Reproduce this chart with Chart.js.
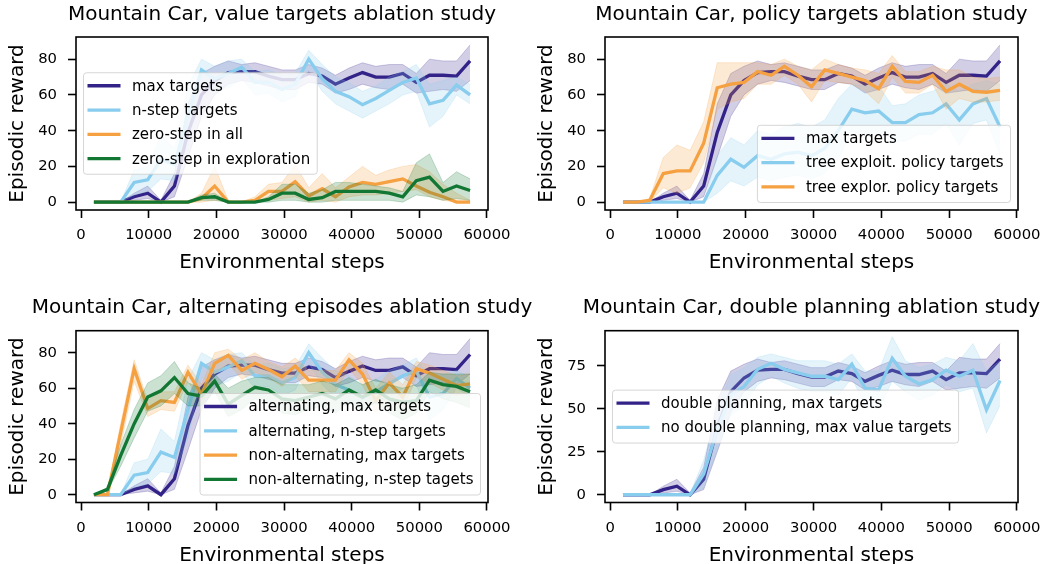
<!DOCTYPE html>
<html>
<head>
<meta charset="utf-8">
<title>Mountain Car ablation studies</title>
<script src="https://cdn.jsdelivr.net/npm/chart.js@4.4.1/dist/chart.umd.min.js"></script>
<style>
    html, body { margin: 0; padding: 0; background: #fff; overflow: hidden; }
    #wrap { position: relative; width: 1044px; height: 564px; }
    canvas { position: absolute; }
</style>
</head>
<body>
<div id="wrap">
    <canvas id="c1" width="522" height="282" style="left:0;top:0"></canvas>
    <canvas id="c2" width="522" height="282" style="left:522px;top:0"></canvas>
    <canvas id="c3" width="560" height="300" style="left:0;top:282px"></canvas>
    <canvas id="c4" width="522" height="300" style="left:522px;top:282px"></canvas>
</div>
<script>
// evaluation points (environmental steps)
var steps = [1900, 3900, 5850, 7850, 9850, 11800, 13800, 15800, 17800, 19750, 21750, 23750, 25700, 27700,
    29700, 31650, 33650, 35650, 37600, 39600, 41600, 43550, 45550, 47550, 49550, 51500, 53500, 55500, 57500];

var xTicks = [0, 10000, 20000, 30000, 40000, 50000, 60000];
var yTicks = [0, 20, 40, 60, 80];
var yTicksDouble = [0, 25, 50, 75];

// max targets (shared by all four panels)
var maxMean  = [0, 0, 0, 3, 5, 0, 9, 39, 60, 68, 72.5, 73, 73, 70.5, 68.5, 68.5, 72, 70.5, 66, 69.5, 72.5, 70, 70, 72, 67, 71, 71, 70.5, 79];
var maxUpper = [0, 0, 0, 5, 9, 1, 16, 55, 72, 76, 79, 77, 78, 76, 74, 74, 77, 75, 71, 75, 78, 76, 77, 77, 72, 80, 79, 79, 88];
var maxLower = [0, 0, 0, 1, 2, 0, 3, 25, 48, 60, 66, 68, 67, 65, 63, 63, 67, 66, 61, 63, 66, 64, 63, 66, 61, 62, 63, 62, 68];

// n-step targets (panels 1 and 3)
var nstepMean  = [0, 0, 0, 11, 12.5, 24, 21, 48, 74, 69, 72, 75.5, 67, 67, 63, 66, 80, 69, 62, 59, 54.5, 58, 62.5, 67, 69.5, 55, 57, 65.5, 60];
var nstepUpper = [0, 0, 0, 18, 20, 37, 30, 65, 80, 76, 79, 80, 73, 74, 71, 72, 85, 77, 70, 67, 62, 65, 70, 73, 77, 66, 68, 70, 66];
var nstepLower = [0, 0, 0, 4, 6, 13, 12, 32, 66, 61, 64, 69, 60, 61, 56, 59, 74, 62, 55, 51, 47, 51, 55, 60, 62, 42, 48, 60, 55];

// zero-step in all
var zeroAllMean  = [0, 0, 0, 0, 0, 0, 0, 0, 2, 9, 0, 0, 1, 6, 6, 11.5, 3.5, 7.5, 3, 8.5, 11, 10, 11.5, 13, 9, 5.5, 3, 0, 0];
var zeroAllUpper = [0, 0, 0, 0, 0, 0, 0, 0, 5, 20, 1, 0, 3, 10, 11, 21, 8, 16, 8, 14, 20, 15, 18, 20, 21, 17, 10, 5, 1];
var zeroAllLower = [0, 0, 0, 0, 0, 0, 0, 0, 0, 1, 0, 0, 0, 1, 2, 3, 0, 1, 0, 3, 4, 4, 5, 6, 7, 3, 1, 0, 0];

// zero-step in exploration
var zeroExpMean  = [0, 0, 0, 0, 0, 0, 0, 0, 2.5, 3, 0, 0, 0, 1.5, 5, 5, 1.5, 2.5, 6, 6, 6, 6, 5, 3, 12, 14, 6, 9, 6.5];
var zeroExpUpper = [0, 0, 0, 0, 0, 0, 0, 0, 4, 5, 0, 0, 0, 3, 10, 10, 5, 7, 11, 11, 10, 9, 8, 6, 22, 27, 11, 17, 13];
var zeroExpLower = [0, 0, 0, 0, 0, 0, 0, 0, 1, 1, 0, 0, 0, 0, 1, 1, 0, 0, 1, 1, 1, 1, 1, 0, 4, 3, 1, 2, 1];

// tree exploit. policy targets
var exploitMean  = [0, 0, 0, 0, 0, 0, 0, 15, 24, 19.5, 26, 24, 27, 28, 26, 30, 40, 52, 50, 51, 44.5, 44.5, 49, 50, 55, 46, 55, 58, 42];
var exploitUpper = [0, 0, 0, 0, 0, 0, 0, 26, 36, 32, 40, 38, 42, 44, 42, 46, 58, 66, 65, 65, 54, 55, 60, 62, 66, 62, 66, 68, 66];
var exploitLower = [0, 0, 0, 0, 0, 0, 0, 5, 12, 9, 14, 12, 14, 15, 13, 16, 24, 40, 36, 38, 34, 34, 38, 38, 44, 32, 44, 46, 26];

// tree explor. policy targets
var explorMean  = [0, 0, 1, 16, 17.5, 17.5, 33, 64, 66, 67, 73, 71, 76, 71, 64.5, 74, 72, 70, 68, 63.5, 76, 67.5, 67, 71, 62, 66, 62, 61.5, 62.5];
var explorUpper = [0, 0, 2, 25, 32, 29, 45, 78, 78, 78, 78, 77, 80, 76, 74, 80, 77, 75, 74, 72, 82, 73, 73, 76, 74, 74, 70, 69, 70];
var explorLower = [0, 0, 0, 8, 5, 8, 22, 52, 56, 58, 66, 66, 71, 66, 56, 68, 67, 66, 62, 55, 70, 61, 61, 66, 52, 58, 56, 56, 57];

// non-alternating, max targets
var nonAltMaxMean  = [0, 0, 35, 71, 48.5, 53, 52, 69, 56.5, 74, 78.5, 70, 74, 70.5, 66.5, 72.5, 64.5, 64.5, 64.5, 76, 68, 53, 63, 55, 71, 68.5, 65, 61.5, 62.5];
var nonAltMaxUpper = [0, 1, 40, 76, 53, 58, 58, 73, 62, 80, 82, 76, 80, 75, 72, 77, 70, 70, 70, 80, 74, 60, 69, 62, 75, 73, 70, 67, 68];
var nonAltMaxLower = [0, 0, 28, 64, 44, 48, 47, 64, 51, 68, 74, 65, 69, 66, 61, 67, 58, 58, 58, 71, 62, 46, 57, 48, 66, 63, 59, 56, 57];

// non-alternating, n-step targets
var nonAltNMean  = [0, 3, 22, 40, 55, 58.5, 66, 57, 55.5, 64, 51, 56, 60.5, 59, 54, 53, 55, 57, 54, 59, 55, 59, 54, 52, 53, 64.5, 62, 61, 58];
var nonAltNUpper = [0, 4, 28, 48, 63, 67, 75, 63, 60, 68, 60, 64, 66, 66, 62, 62, 62, 64, 62, 66, 62, 65, 62, 60, 62, 69, 68, 68, 68];
var nonAltNLower = [0, 2, 16, 32, 47, 50, 57, 50, 50, 58, 44, 48, 54, 52, 46, 45, 48, 50, 46, 52, 48, 52, 46, 42, 46, 58, 54, 52, 49];

// no double planning, max value targets
var noDoubleMean  = [0, 0, 0, 0, 0, 0, 12, 38, 58, 63, 73, 76.5, 73, 71, 69, 69, 67, 76, 62, 61, 79.5, 69, 64.5, 67, 72.5, 69, 72.5, 49.5, 66.5];
var noDoubleUpper = [0, 0, 0, 0, 0, 1, 20, 50, 70, 74, 80, 82, 80, 78, 78, 78, 76, 82, 72, 72, 92, 78, 74, 76, 80, 78, 88, 72, 78];
var noDoubleLower = [0, 0, 0, 0, 0, 0, 4, 26, 46, 52, 64, 69, 65, 62, 60, 60, 58, 68, 52, 50, 66, 60, 55, 58, 64, 60, 62, 36, 52];

var NAVY = "#332288";
var SKY = "#88CCEE";
var ORANGE = "#F5A142";
var GREEN = "#117733";

Chart.defaults.font.family = '"DejaVu Sans", sans-serif';
Chart.defaults.color = "#000";

function pts(values) {
    return values.map(function (v, i) {
        return { x: steps[i], y: v };
    });
}

function alpha(hex, a) {
    var n = parseInt(hex.slice(1), 16);
    return "rgba(" + (n >> 16) + "," + ((n >> 8) & 255) + "," + (n & 255) + "," + a + ")";
}

// matplotlib-like frame round the plot area
var framePlugin = {
    id: "frame",
    afterDatasetsDraw: function (chart) {
        var a = chart.chartArea;
        var ctx = chart.ctx;
        ctx.save();
        ctx.strokeStyle = "#000";
        ctx.lineWidth = 1.6;
        ctx.strokeRect(a.left, a.top, a.right - a.left, a.bottom - a.top);
        ctx.restore();
    }
};

// title centred over the plot area (not the whole canvas)
var panelTitle = {
    id: "panelTitle",
    afterDraw: function (chart, args, opts) {
        if (!opts.text) return;
        var a = chart.chartArea;
        var ctx = chart.ctx;
        ctx.save();
        ctx.font = '20px "DejaVu Sans"';
        ctx.fillStyle = "#000";
        ctx.textAlign = "center";
        ctx.textBaseline = "middle";
        ctx.fillText(opts.text, (a.left + a.right) / 2, opts.y);
        ctx.restore();
    }
};

// legend box drawn inside the plot area
var boxLegend = {
    id: "boxLegend",
    afterDraw: function (chart, args, opts) {
        if (!opts.items) return;
        var ctx = chart.ctx;
        var a = chart.chartArea;
        ctx.save();
        ctx.font = '15px "DejaVu Sans"';
        var tw = 0;
        opts.items.forEach(function (it) {
            tw = Math.max(tw, ctx.measureText(it.label).width);
        });
        var w = 48.5 + tw + 7;
        var h = 24.3 * opts.items.length + 4.3;
        var x, y;
        if (opts.loc === "center left") {
            x = a.left + 7.5;
            y = (a.top + a.bottom) / 2 - h / 2;
        } else {
            x = a.right - 7.5 - w;
            y = a.bottom - 7.5 - h;
        }
        ctx.beginPath();
        ctx.roundRect(x, y, w, h, 3);
        ctx.fillStyle = "rgba(255,255,255,0.8)";
        ctx.fill();
        ctx.strokeStyle = "rgba(204,204,204,0.8)";
        ctx.lineWidth = 1;
        ctx.stroke();
        ctx.textBaseline = "middle";
        ctx.textAlign = "left";
        opts.items.forEach(function (it, i) {
            var cy = y + 13 + i * 24.3;
            ctx.beginPath();
            ctx.moveTo(x + 4, cy);
            ctx.lineTo(x + 37, cy);
            ctx.strokeStyle = it.color;
            ctx.lineWidth = 3.3;
            ctx.stroke();
            ctx.fillStyle = "#000";
            ctx.fillText(it.label, x + 48.5, cy + 1);
        });
        ctx.restore();
    }
};

function makePanel(id, cfg) {
    var datasets = [];
    cfg.series.forEach(function (s, k) {
        var base = 100 - k * 10;
        datasets.push({
            data: pts(s.lower), borderColor: alpha(s.color, 0.22), borderWidth: 1,
            pointRadius: 0, fill: false, order: base + 2
        });
        datasets.push({
            data: pts(s.upper), borderColor: alpha(s.color, 0.22), borderWidth: 1,
            backgroundColor: alpha(s.color, 0.22), pointRadius: 0, fill: "-1", order: base + 1
        });
        datasets.push({
            label: s.label, data: pts(s.mean), borderColor: s.color, borderWidth: 3.3,
            pointRadius: 0, fill: false, order: base
        });
    });

    var tickFont = { size: 14.8 };
    var labelFont = { size: 20 };
    var tickGrid = { drawOnChartArea: false, drawTicks: true, tickLength: 8, tickWidth: 1.6, tickColor: "#000" };

    new Chart(document.getElementById(id), {
        type: "line",
        data: { datasets: datasets },
        options: {
            responsive: false,
            animation: false,
            devicePixelRatio: 1,
            layout: { padding: { left: 0, top: cfg.padTop, right: cfg.padRight, bottom: cfg.padBottom } },
            plugins: {
                legend: { display: false },
                tooltip: { enabled: false },
                title: { display: false },
                panelTitle: { text: cfg.title, y: cfg.titleY },
                boxLegend: { loc: cfg.legendLoc, items: cfg.series.map(function (s) {
                    return { label: s.label, color: s.color };
                }) }
            },
            scales: {
                x: {
                    type: "linear",
                    min: -750,
                    max: 60150,
                    afterBuildTicks: function (s) {
                        s.ticks = xTicks.map(function (v) { return { value: v }; });
                    },
                    afterFit: function (s) {
                        s.height = 72;
                        s.paddingLeft = 0;
                        s.paddingRight = 0;
                    },
                    ticks: {
                        font: tickFont, color: "#000", padding: 8.5, maxRotation: 0, autoSkip: false,
                        callback: function (v) { return String(v); }
                    },
                    grid: tickGrid,
                    border: { display: false },
                    title: { display: true, text: "Environmental steps", font: labelFont, color: "#000",
                        padding: { top: 0, bottom: 7 } }
                },
                y: {
                    min: cfg.yMin,
                    max: cfg.yMax,
                    afterBuildTicks: function (s) {
                        s.ticks = cfg.yTicks.map(function (v) { return { value: v }; });
                    },
                    afterFit: function (s) {
                        s.width = cfg.yWidth;
                        s.paddingTop = 0;
                        s.paddingBottom = 0;
                    },
                    ticks: { font: tickFont, color: "#000", padding: 11 },
                    grid: tickGrid,
                    border: { display: false },
                    title: { display: true, text: "Episodic reward", font: labelFont, color: "#000",
                        padding: { top: cfg.yTitlePad, bottom: 0 } }
                }
            }
        },
        plugins: [framePlugin, panelTitle, boxLegend]
    });
}

document.addEventListener("DOMContentLoaded", function () {
    var maxSeries = function (label) {
        return { label: label, color: NAVY, mean: maxMean, upper: maxUpper, lower: maxLower };
    };

    makePanel("c1", {
        title: "Mountain Car, value targets ablation study", titleY: 15,
        padTop: 37, padRight: 34, padBottom: 0, yWidth: 76, yTitlePad: 6,
        yMin: -4.4, yMax: 92.4, yTicks: yTicks, legendLoc: "center left",
        series: [
            maxSeries("max targets"),
            { label: "n-step targets", color: SKY, mean: nstepMean, upper: nstepUpper, lower: nstepLower },
            { label: "zero-step in all", color: ORANGE, mean: zeroAllMean, upper: zeroAllUpper, lower: zeroAllLower },
            { label: "zero-step in exploration", color: GREEN, mean: zeroExpMean, upper: zeroExpUpper, lower: zeroExpLower }
        ]
    });

    makePanel("c2", {
        title: "Mountain Car, policy targets ablation study", titleY: 15,
        padTop: 37, padRight: 26, padBottom: 0, yWidth: 83, yTitlePad: 13,
        yMin: -4.4, yMax: 92.4, yTicks: yTicks, legendLoc: "lower right",
        series: [
            maxSeries("max targets"),
            { label: "tree exploit. policy targets", color: SKY, mean: exploitMean, upper: exploitUpper, lower: exploitLower },
            { label: "tree explor. policy targets", color: ORANGE, mean: explorMean, upper: explorUpper, lower: explorLower }
        ]
    });

    makePanel("c3", {
        title: "Mountain Car, alternating episodes ablation study", titleY: 26,
        padTop: 48.7, padRight: 72, padBottom: 7.5, yWidth: 76, yTitlePad: 6,
        yMin: -4.4, yMax: 92.4, yTicks: yTicks, legendLoc: "lower right",
        series: [
            maxSeries("alternating, max targets"),
            { label: "alternating, n-step targets", color: SKY, mean: nstepMean, upper: nstepUpper, lower: nstepLower },
            { label: "non-alternating, max targets", color: ORANGE, mean: nonAltMaxMean, upper: nonAltMaxUpper, lower: nonAltMaxLower },
            { label: "non-alternating, n-step tagets", color: GREEN, mean: nonAltNMean, upper: nonAltNUpper, lower: nonAltNLower }
        ]
    });

    makePanel("c4", {
        title: "Mountain Car, double planning ablation study", titleY: 26,
        padTop: 48.7, padRight: 26, padBottom: 7.5, yWidth: 83, yTitlePad: 13,
        yMin: -4.5, yMax: 95.5, yTicks: yTicksDouble, legendLoc: "center left",
        series: [
            maxSeries("double planning, max targets"),
            { label: "no double planning, max value targets", color: SKY, mean: noDoubleMean, upper: noDoubleUpper, lower: noDoubleLower }
        ]
    });
});
</script>
</body>
</html>
